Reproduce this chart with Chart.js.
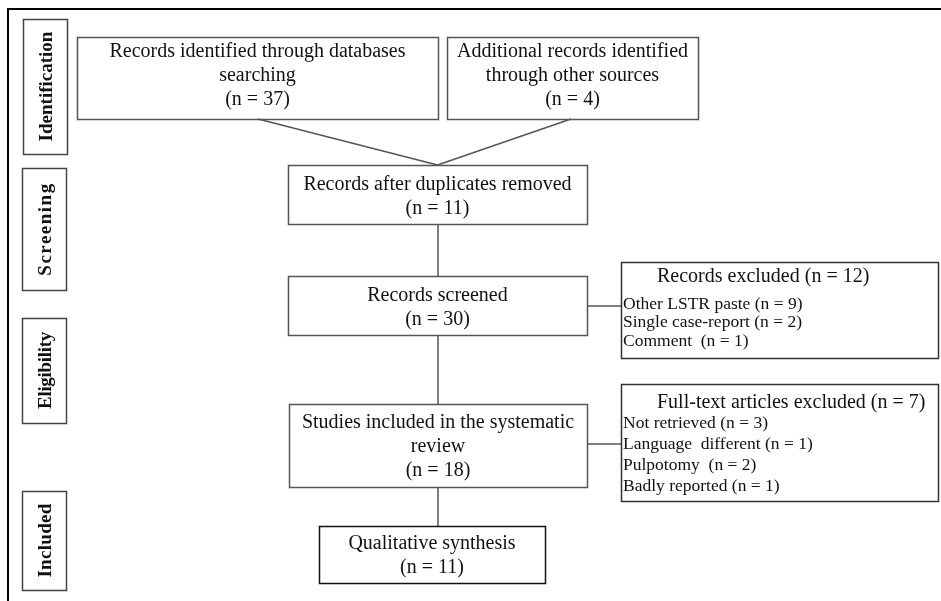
<!DOCTYPE html>
<html>
<head>
<meta charset="utf-8">
<script src="https://cdn.jsdelivr.net/npm/chart.js@4"></script>
<style>
  html, body { margin: 0; padding: 0; background: #fff; }
  canvas { display: block; }
</style>
</head>
<body>
<canvas id="prismaChart" width="941" height="601"></canvas>
<script>
// PRISMA flow data
const stages = ["Identification", "Screening", "Eligibility", "Included"];
const databaseRecords = 37;
const otherSourceRecords = 4;
const afterDuplicates = 11;
const screenedRecords = 30;
const recordsExcluded = 12;
const screenReasons = ["Other LSTR paste", "Single case-report", "Comment "];
const screenReasonCounts = [9, 2, 1];
const fullTextExcluded = 7;
const fullTextReasons = ["Not retrieved", "Language  different", "Pulpotomy ", "Badly reported"];
const fullTextReasonCounts = [3, 1, 2, 1];
const studiesIncluded = 18;
const synthesisCount = 11;

const n = (v) => "(n = " + v + ")";

// layout in scale units (axes run 0..941 and 0..601)
const stageBoxes = [
  { x0: 23, y0: 19, x1: 67, y1: 154, spacing: 0 },
  { x0: 22, y0: 168, x1: 66, y1: 290, spacing: 1.5 },
  { x0: 22, y0: 318, x1: 66, y1: 423, spacing: -0.3 },
  { x0: 22, y0: 491, x1: 66, y1: 590, spacing: 0.3 },
];

const flowBoxes = [
  { x0: 77, y0: 37, x1: 438, y1: 119, dy: -2, lines: ["Records identified through databases", "searching", n(databaseRecords)] },
  { x0: 447, y0: 37, x1: 698, y1: 119, dy: -2, lines: ["Additional records identified", "through other sources", n(otherSourceRecords)] },
  { x0: 288, y0: 165, x1: 587, y1: 224, dy: 2, lines: ["Records after duplicates removed", n(afterDuplicates)] },
  { x0: 288, y0: 276, x1: 587, y1: 335, dy: 2, lines: ["Records screened", n(screenedRecords)] },
  { x0: 289, y0: 404, x1: 587, y1: 487, dy: 1, lines: ["Studies included in the systematic", "review", n(studiesIncluded)] },
  { x0: 319, y0: 526, x1: 545, y1: 583, dy: 1, lines: ["Qualitative synthesis", n(synthesisCount)], dark: true },
];

const sideBoxes = [
  { x0: 621, y0: 262, x1: 938, y1: 358, headY: 15, itemY: 42, step: 18.5, head: "Records excluded " + n(recordsExcluded),
    items: screenReasons.map((r, i) => r + " " + n(screenReasonCounts[i])) },
  { x0: 621, y0: 384, x1: 938, y1: 501, headY: 19, itemY: 39, step: 21.3, head: "Full-text articles excluded " + n(fullTextExcluded),
    items: fullTextReasons.map((r, i) => r + " " + n(fullTextReasonCounts[i])) },
];

// connectors derived from the boxes
const cx = (b) => (b.x0 + b.x1) / 2;
const cy = (b) => (b.y0 + b.y1) / 2;
const connectors = [
  [{ x: 258, y: flowBoxes[0].y1 }, { x: cx(flowBoxes[2]), y: flowBoxes[2].y0 }],
  [{ x: 571, y: flowBoxes[1].y1 }, { x: cx(flowBoxes[2]), y: flowBoxes[2].y0 }],
  [{ x: 438, y: flowBoxes[2].y1 }, { x: 438, y: flowBoxes[3].y0 }],
  [{ x: 438, y: flowBoxes[3].y1 }, { x: 438, y: flowBoxes[4].y0 }],
  [{ x: 438, y: flowBoxes[4].y1 }, { x: 438, y: flowBoxes[5].y0 }],
  [{ x: flowBoxes[3].x1, y: 306 }, { x: sideBoxes[0].x0, y: 306 }],
  [{ x: flowBoxes[4].x1, y: 444 }, { x: sideBoxes[1].x0, y: 444 }],
  // outer frame
  [{ x: 941, y: 9 }, { x: 8, y: 9 }, { x: 8, y: 601 }],
];

const serif = '"Liberation Serif", "Times New Roman", serif';

const boxPlugin = {
  id: "prismaBoxes",
  afterDatasetsDraw(chart) {
    const { ctx, scales } = chart;
    const X = (v) => scales.x.getPixelForValue(v);
    const Y = (v) => scales.y.getPixelForValue(v);
    const rect = (b, color, w) => {
      ctx.strokeStyle = color;
      ctx.lineWidth = w;
      ctx.strokeRect(Math.round(X(b.x0)) + 0.5, Math.round(Y(b.y0)) + 0.5,
        Math.round(X(b.x1) - X(b.x0)), Math.round(Y(b.y1) - Y(b.y0)));
    };
    ctx.save();
    ctx.fillStyle = "#111";
    ctx.textBaseline = "middle";

    // stage labels
    stageBoxes.forEach((b, i) => {
      rect(b, "#444", 1.5);
      ctx.save();
      ctx.translate(X(cx(b)) + 1, Y(cy(b)));
      ctx.rotate(-Math.PI / 2);
      ctx.font = "bold 19px " + serif;
      ctx.letterSpacing = b.spacing + "px";
      ctx.textAlign = "center";
      ctx.fillText(stages[i], 0, 1);
      ctx.restore();
    });

    // main flow boxes
    ctx.font = "20px " + serif;
    ctx.textAlign = "center";
    flowBoxes.forEach((b) => {
      rect(b, b.dark ? "#111" : "#555", 1.5);
      const lh = 24;
      const top = Y(cy(b) + b.dy) - ((b.lines.length - 1) * lh) / 2;
      b.lines.forEach((t, j) => ctx.fillText(t, X(cx(b)), top + j * lh));
    });

    // exclusion boxes
    sideBoxes.forEach((b) => {
      rect(b, "#333", 1.5);
      ctx.textAlign = "left";
      ctx.font = "20px " + serif;
      ctx.fillText(b.head, X(b.x0 + 36), Y(b.y0 + b.headY));
      ctx.font = "17.5px " + serif;
      b.items.forEach((t, j) => ctx.fillText(t, X(b.x0 + 2), Y(b.y0 + b.itemY + j * b.step)));
    });
    ctx.restore();
  },
};

new Chart(document.getElementById("prismaChart").getContext("2d"), {
  type: "scatter",
  data: {
    datasets: connectors.map((pts, i) => ({
      data: pts,
      showLine: true,
      borderColor: i === connectors.length - 1 ? "#000" : "#555",
      borderWidth: i === connectors.length - 1 ? 2 : 1.5,
      pointRadius: 0,
      tension: 0,
    })),
  },
  options: {
    responsive: false,
    animation: false,
    layout: { padding: 0 },
    plugins: {
      legend: { display: false },
      tooltip: { enabled: false },
    },
    scales: {
      x: { type: "linear", min: 0, max: 941, display: false },
      y: { type: "linear", min: 0, max: 601, reverse: true, display: false },
    },
  },
  plugins: [boxPlugin],
});
</script>
</body>
</html>
